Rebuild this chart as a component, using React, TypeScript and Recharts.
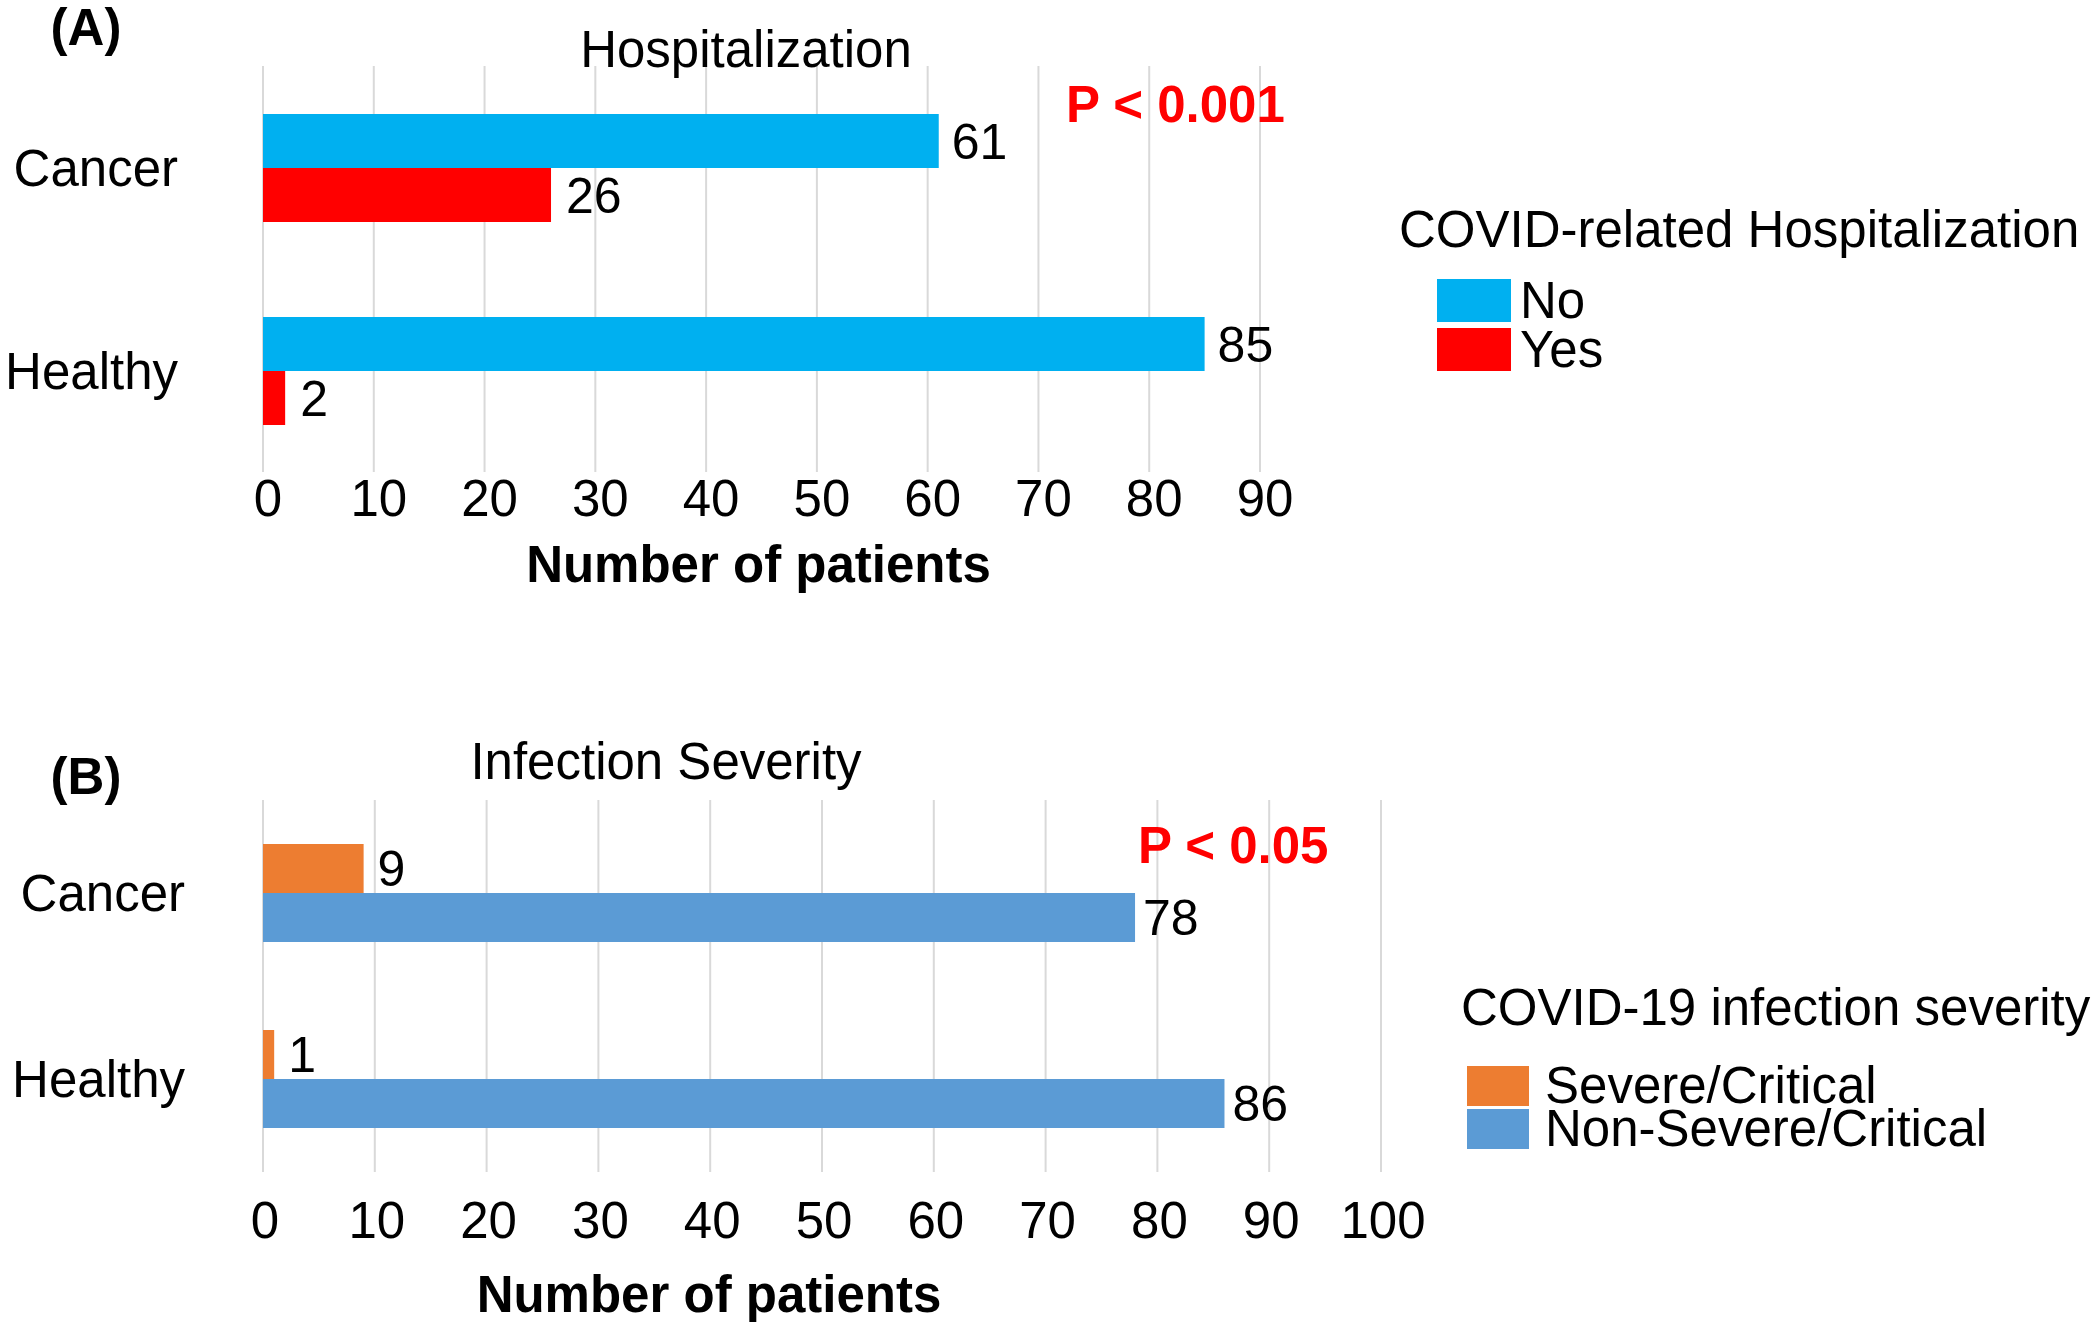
import React from 'react';
import { BarChart, Bar, XAxis, YAxis, CartesianGrid, Legend, LabelList } from 'recharts';

const categories = ['Cancer', 'Healthy'];
const hospNo = [61, 85];
const hospYes = [26, 2];
const severe = [9, 1];
const nonSevere = [78, 86];
const ticksA = [0, 10, 20, 30, 40, 50, 60, 70, 80, 90];
const ticksB = [0, 10, 20, 30, 40, 50, 60, 70, 80, 90, 100];
const namesA = ['No', 'Yes'];
const namesB = ['Severe/Critical', 'Non-Severe/Critical'];

const FONT = '"Liberation Sans", Arial, Helvetica, sans-serif';
const FS = 51;

const rowsA = categories.map((cat, i) => ({ cat, no: hospNo[i], yes: hospYes[i] }));
const rowsB = categories.map((cat, i) => ({ cat, severe: severe[i], non: nonSevere[i] }));

type NoteProps = { x: number; y: number; text: string; center?: boolean; bold?: boolean; color?: string };
function Note({ x, y, text, center, bold, color = '#000' }: NoteProps) {
  return (
    <div style={{
      position: 'absolute', left: x, top: y, transform: center ? 'translate(-50%,-50%)' : 'translateY(-50%)',
      fontSize: FS, lineHeight: 0.9, fontWeight: bold ? 700 : 400, color, whiteSpace: 'nowrap',
    }}>{text}</div>
  );
}

// legend drawn from the chart's own payload, kept in series order
function makeLegend(title: string, order: string[], sw: { w: number; h: number; x: number; y0: number; step: number; tx: number }) {
  return (props: any) => {
    const items = [...(props.payload || [])].sort((a: any, b: any) => order.indexOf(a.value) - order.indexOf(b.value));
    return (
      <div style={{ position: 'relative', width: 700, height: 220, fontFamily: FONT, color: '#000', whiteSpace: 'nowrap' }}>
        <div style={{ position: 'absolute', left: 0, top: 0, fontSize: FS, lineHeight: 1 }}>{title}</div>
        {items.map((it: any, i: number) => (
          <React.Fragment key={it.value}>
            <div style={{ position: 'absolute', left: sw.x, top: sw.y0 + i * sw.step, width: sw.w, height: sw.h, background: it.color }} />
            <div style={{
              position: 'absolute', left: sw.tx, top: sw.y0 + i * sw.step + sw.h / 2, transform: 'translateY(-50%)',
              fontSize: FS, lineHeight: 0.8,
            }}>{it.value}</div>
          </React.Fragment>
        ))}
      </div>
    );
  };
}

const tickStyle = { fontSize: FS, fill: '#000' };

export default function App() {
  return (
    <div style={{ position: 'absolute', left: 0, top: 0, width: 2100, height: 1322, background: '#fff', fontFamily: FONT, overflow: 'hidden' }}>
      {/* Panel A */}
      <div style={{ position: 'absolute', left: 0, top: 0 }}>
        <BarChart width={2100} height={640} data={rowsA} layout="vertical" barGap={0}
          margin={{ top: 66, right: 840, bottom: 58, left: 0 }}>
          <CartesianGrid horizontal={false} stroke="#D9D9D9" strokeWidth={2} />
          <XAxis type="number" domain={[0, 90]} ticks={ticksA} interval={0} axisLine={false} tickLine={false}
            tick={{ ...tickStyle, dx: 5 }} height={110}
            label={{ value: 'Number of patients', position: 'insideBottom', offset: 0, fontSize: FS, fontWeight: 700, fill: '#000', dx: -3 }} />
          <YAxis type="category" dataKey="cat" width={263} axisLine={false} tickLine={false} tick={tickStyle} tickMargin={79} />
          <Legend layout="vertical" align="center" verticalAlign="middle"
            wrapperStyle={{ left: 1399, top: 204, width: 700 }}
            content={makeLegend('COVID-related Hospitalization', namesA, { w: 74, h: 43, x: 38, y0: 75, step: 49, tx: 121 })} />
          <Bar dataKey="no" name={namesA[0]} fill="#00B0F0" barSize={54} isAnimationActive={false}>
            <LabelList dataKey="no" position="right" offset={13} fill="#000" fontSize={50} />
          </Bar>
          <Bar dataKey="yes" name={namesA[1]} fill="#FF0000" barSize={54} isAnimationActive={false}>
            <LabelList dataKey="yes" position="right" offset={15} fill="#000" fontSize={50} />
          </Bar>
        </BarChart>
      </div>
      <Note x={86} y={28} text="(A)" center bold />
      <Note x={746} y={50} text="Hospitalization" center />
      <Note x={1066} y={105} text="P < 0.001" bold color="#FF0000" />

      {/* Panel B */}
      <div style={{ position: 'absolute', left: 0, top: 640 }}>
        <BarChart width={2100} height={682} data={rowsB} layout="vertical" barGap={0}
          margin={{ top: 160, right: 719, bottom: 10, left: 0 }}>
          <CartesianGrid horizontal={false} stroke="#D9D9D9" strokeWidth={2} />
          <XAxis type="number" domain={[0, 100]} ticks={ticksB} interval={0} axisLine={false} tickLine={false}
            tick={{ ...tickStyle, dx: 2 }} tickMargin={24} height={140}
            label={{ value: 'Number of patients', position: 'insideBottom', offset: 0, fontSize: FS, fontWeight: 700, fill: '#000', dx: -113 }} />
          <YAxis type="category" dataKey="cat" width={263} axisLine={false} tickLine={false} tick={tickStyle} tickMargin={72} />
          <Legend layout="vertical" align="center" verticalAlign="middle"
            wrapperStyle={{ left: 1461, top: 342, width: 700 }}
            content={makeLegend('COVID-19 infection severity', namesB, { w: 62, h: 40, x: 6, y0: 84, step: 43, tx: 84 })} />
          <Bar dataKey="severe" name={namesB[0]} fill="#ED7D31" barSize={49} isAnimationActive={false}>
            <LabelList dataKey="severe" position="right" offset={14} fill="#000" fontSize={50} />
          </Bar>
          <Bar dataKey="non" name={namesB[1]} fill="#5B9BD5" barSize={49} isAnimationActive={false}>
            <LabelList dataKey="non" position="right" offset={8} fill="#000" fontSize={50} />
          </Bar>
        </BarChart>
      </div>
      <Note x={86} y={777} text="(B)" center bold />
      <Note x={666} y={762} text="Infection Severity" center />
      <Note x={1138} y={846} text="P < 0.05" bold color="#FF0000" />
    </div>
  );
}
